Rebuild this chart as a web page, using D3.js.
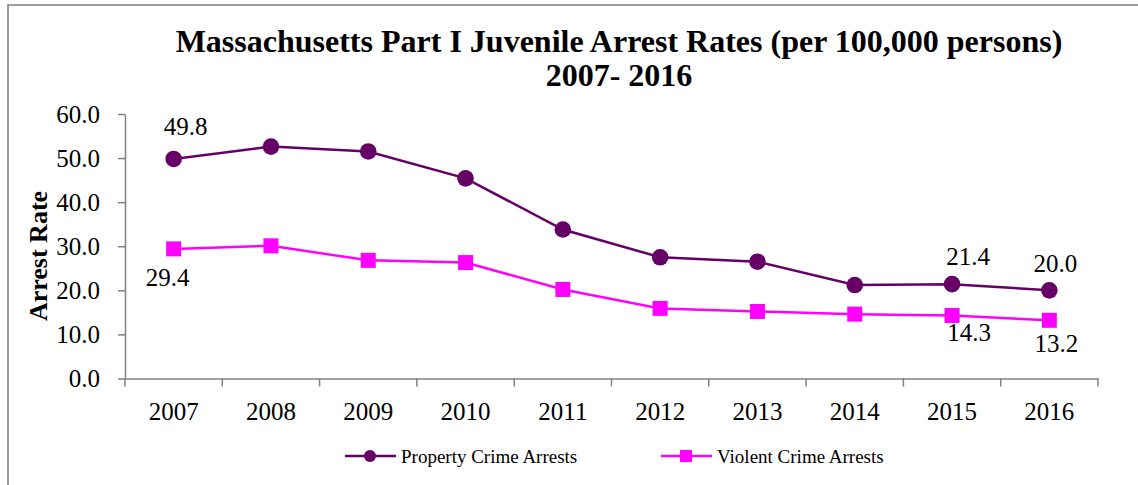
<!DOCTYPE html>
<html>
<head>
<meta charset="utf-8">
<script src="https://cdn.jsdelivr.net/npm/d3@7"></script>
<style>
  html, body { margin: 0; padding: 0; background: #fff; }
  svg { display: block; }
  text { font-family: "Liberation Serif", "Times New Roman", serif; fill: #000; }
</style>
</head>
<body>
<svg id="chart" width="1138" height="485"></svg>
<script>
// ---- data ----
const years = ["2007","2008","2009","2010","2011","2012","2013","2014","2015","2016"];
const propertyRates = [49.8, 52.6, 51.5, 45.4, 33.8, 27.5, 26.5, 21.2, 21.4, 20.0];
const violentRates  = [29.4, 30.1, 26.8, 26.3, 20.2, 15.9, 15.2, 14.6, 14.3, 13.2];
const yTicks = [0, 10, 20, 30, 40, 50, 60];
const propertyLabelIdx = [0, 8, 9];
const violentLabelIdx = [0, 8, 9];
const seriesNames = ["Property Crime Arrests", "Violent Crime Arrests"];
const titleLines = ["Massachusetts Part I Juvenile Arrest Rates (per 100,000 persons)", "2007- 2016"];
const yTitle = "Arrest Rate";

// ---- layout / style ----
const W = 1138, H = 485;
const plot = { left: 125, right: 1098, top: 114, bottom: 378.5 };
const colProp = "#660066", colViol = "#FF00FF", axisCol = "#808080";
const numFont = 25;
// label offsets (dx, dy of baseline) relative to marker
const propLabelOff = { 0: [12, -24], 8: [16, -19], 9: [6, -18] };
const violLabelOff = { 0: [-6, 37], 8: [17, 26], 9: [7, 32] };

const svg = d3.select("#chart");
svg.append("rect").attr("width", W).attr("height", H).attr("fill", "#fff");

// outer border (left & top visible)
svg.append("path").attr("d", `M8,${H} V5 H${W}`).attr("fill", "none")
  .attr("stroke", axisCol).attr("stroke-width", 1.6);

const x = d3.scaleBand().domain(years).range([plot.left, plot.right]).padding(0);
const cx = d => x(d) + x.bandwidth() / 2;
const y = d3.scaleLinear().domain([0, 60]).range([plot.bottom, plot.top]);

// title
const title = svg.append("text").attr("text-anchor", "middle")
  .attr("font-weight", "bold").attr("font-size", 32);
title.append("tspan").attr("x", 619).attr("y", 52).text(titleLines[0]);
title.append("tspan").attr("x", 619).attr("y", 86).text(titleLines[1]);

// y axis
const yAxis = d3.axisLeft(y).tickValues(yTicks).tickFormat(d3.format(".1f"))
  .tickSize(7).tickSizeOuter(0).tickPadding(18);
const gy = svg.append("g").attr("transform", `translate(${plot.left},0)`).call(yAxis);
gy.selectAll("path, line").attr("stroke", axisCol).attr("stroke-width", 1.5);
gy.selectAll("text").attr("font-size", numFont).attr("font-family", "Liberation Serif").attr("fill", "#000");

// x axis
const xAxis = d3.axisBottom(x).tickSize(0).tickSizeOuter(0).tickPadding(24);
const gx = svg.append("g").attr("transform", `translate(0,${plot.bottom})`).call(xAxis);
gx.select("path").attr("stroke", axisCol).attr("stroke-width", 1.5);
gx.selectAll("text").attr("font-size", numFont).attr("font-family", "Liberation Serif").attr("fill", "#000");
const bounds = years.map(d => x(d)).concat([x.range()[1]]);
gx.selectAll("line.bt").data(bounds).enter().append("line").attr("class", "bt")
  .attr("x1", d => d).attr("x2", d => d).attr("y1", 0).attr("y2", 8)
  .attr("stroke", axisCol).attr("stroke-width", 1.5);

// y title
svg.append("text").attr("transform", `translate(47,256) rotate(-90)`)
  .attr("text-anchor", "middle").attr("font-weight", "bold").attr("font-size", 26)
  .text(yTitle);

// lines
const line = d3.line().x((d, i) => cx(years[i])).y(d => y(d));
svg.append("path").datum(propertyRates).attr("d", line).attr("fill", "none")
  .attr("stroke", colProp).attr("stroke-width", 2.5);
svg.append("path").datum(violentRates).attr("d", line).attr("fill", "none")
  .attr("stroke", colViol).attr("stroke-width", 2.5);

// markers
svg.selectAll("circle.pm").data(propertyRates).enter().append("circle").attr("class", "pm")
  .attr("cx", (d, i) => cx(years[i])).attr("cy", d => y(d)).attr("r", 8.3).attr("fill", colProp);
const sq = 15;
svg.selectAll("rect.vm").data(violentRates).enter().append("rect").attr("class", "vm")
  .attr("x", (d, i) => cx(years[i]) - sq / 2).attr("y", d => y(d) - sq / 2)
  .attr("width", sq).attr("height", sq).attr("fill", colViol);

// data labels
const fmt = d3.format(".1f");
propertyLabelIdx.forEach(i => {
  const o = propLabelOff[i];
  svg.append("text").attr("text-anchor", "middle").attr("font-size", numFont)
    .attr("x", cx(years[i]) + o[0]).attr("y", y(propertyRates[i]) + o[1]).text(fmt(propertyRates[i]));
});
violentLabelIdx.forEach(i => {
  const o = violLabelOff[i];
  svg.append("text").attr("text-anchor", "middle").attr("font-size", numFont)
    .attr("x", cx(years[i]) + o[0]).attr("y", y(violentRates[i]) + o[1]).text(fmt(violentRates[i]));
});

// legend
const legY = 456;
const leg = [
  { x0: 345, name: seriesNames[0], col: colProp, shape: "circle" },
  { x0: 661, name: seriesNames[1], col: colViol, shape: "square" }
];
leg.forEach(L => {
  const g = svg.append("g");
  g.append("line").attr("x1", L.x0).attr("x2", L.x0 + 51).attr("y1", legY).attr("y2", legY)
    .attr("stroke", L.col).attr("stroke-width", 2.5);
  if (L.shape === "circle") {
    g.append("circle").attr("cx", L.x0 + 25).attr("cy", legY).attr("r", 6).attr("fill", L.col);
  } else {
    g.append("rect").attr("x", L.x0 + 25 - 6).attr("y", legY - 6).attr("width", 12).attr("height", 12).attr("fill", L.col);
  }
  g.append("text").attr("x", L.x0 + 56).attr("y", legY + 6.5).attr("font-size", 19).text(L.name);
});
</script>
</body>
</html>
